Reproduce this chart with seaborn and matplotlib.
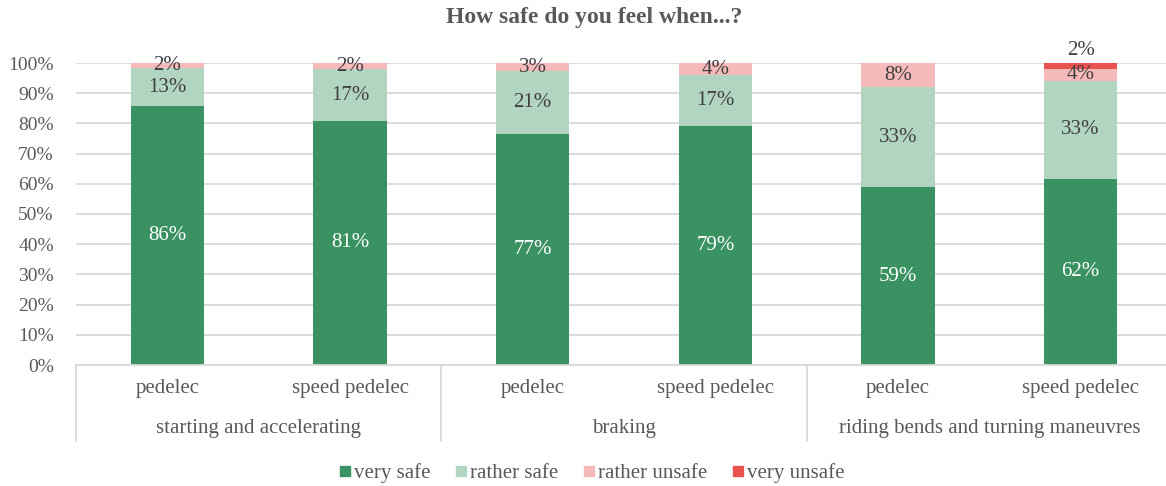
import numpy as np
import matplotlib
matplotlib.use('Agg')
import matplotlib.pyplot as plt
import seaborn as sns
from matplotlib.lines import Line2D

# Dados (percentuais)
groups = ['starting and accelerating', 'braking', 'riding bends and turning maneuvres']
vehicles = ['pedelec', 'speed pedelec']
series = ['very safe', 'rather safe', 'rather unsafe', 'very unsafe']
very_safe = [85.6, 80.8, 76.6, 79.1, 58.9, 61.6]
rather_safe = [12.6, 17.1, 20.6, 16.9, 33.0, 32.6]
rather_unsafe = [1.8, 2.1, 2.8, 4.0, 8.1, 3.9]
very_unsafe = [0.0, 0.0, 0.0, 0.0, 0.0, 1.9]

colors = ['#3A9262', '#B2D5C2', '#F5BAB9', '#E8534F']
text_colors = ['white', '#404040', '#404040', '#404040']

sns.set_style('white')
plt.rcParams['font.family'] = ['Liberation Serif', 'DejaVu Serif']

fig = plt.figure(figsize=(11.66, 4.86), dpi=100)
ax = fig.add_axes([76 / 1166, 121 / 486, 1096 / 1166, 302 / 486])

layers = [very_safe, rather_safe, rather_unsafe, very_unsafe]
cum = np.cumsum(np.array(layers), axis=0)
pos = list(range(len(very_safe)))

# Barras empilhadas: desenha o acumulado do maior para o menor
for i in range(len(layers) - 1, -1, -1):
    sns.barplot(x=pos, y=cum[i] / 100, color=colors[i], width=0.4,
                saturation=1, ax=ax, zorder=2, linewidth=0)

# Rótulos de valores
for i, vals in enumerate(layers):
    for j, v in enumerate(vals):
        if v <= 0:
            continue
        top = cum[i][j] / 100
        bottom = top - v / 100
        y = (top + bottom) / 2
        if series[i] == 'very unsafe':
            y = top + 0.04
        ax.text(j, y, f'{v:.0f}%', ha='center', va='center', fontsize=15,
                color=text_colors[i], zorder=3)

ax.set_ylim(0, 1)
ax.set_xlim(-0.5, 5.5)
ax.set_yticks(np.arange(0, 1.01, 0.1))
ax.set_yticklabels([f'{t}%' for t in range(0, 101, 10)])
ax.yaxis.grid(True, color='#D9D9D9', linewidth=1.3, zorder=0)
ax.set_axisbelow(True)
for s in ['top', 'right', 'left']:
    ax.spines[s].set_visible(False)
ax.spines['bottom'].set_color('#D9D9D9')
ax.spines['bottom'].set_linewidth(1.3)

ax.set_xticks(pos)
ax.set_xticklabels(vehicles * len(groups))
ax.tick_params(axis='x', length=0, pad=10, labelsize=15, labelcolor='#595959')
ax.tick_params(axis='y', length=0, pad=16, labelsize=14, labelcolor='#595959')
ax.set_xlabel('')
ax.set_ylabel('')

# Rótulos dos grupos e separadores
trans = ax.get_xaxis_transform()
for g, name in enumerate(groups):
    ax.text(2 * g + 0.5, -0.209, name, transform=trans, ha='center', va='center',
            fontsize=15, color='#595959')
for xs in [-0.5, 1.5, 3.5, 5.5]:
    ax.plot([xs, xs], [0, -0.25], transform=trans, color='#D9D9D9',
            linewidth=1.3, clip_on=False)

fig.suptitle('How safe do you feel when...?', x=0.51, y=0.963, fontsize=17,
             fontweight='bold', color='#595959', va='center')

handles = [Line2D([0], [0], marker='s', linestyle='', markersize=7.5,
                  markerfacecolor=c, markeredgecolor=c) for c in colors]
fig.legend(handles, series, loc='center', bbox_to_anchor=(0.507, 0.026), ncol=4,
           frameon=False, fontsize=15, labelcolor='#595959', handletextpad=0.1,
           columnspacing=1.1, handlelength=0.7)

plt.savefig('out.png', dpi=100)
